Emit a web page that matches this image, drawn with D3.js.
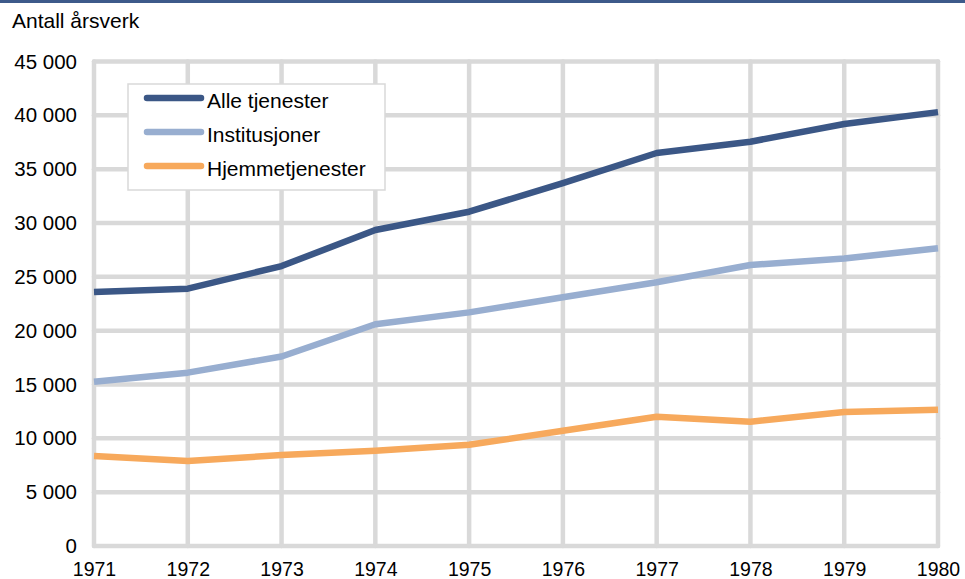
<!DOCTYPE html>
<html>
<head>
<meta charset="utf-8">
<script src="https://cdn.jsdelivr.net/npm/d3@7"></script>
<style>
  body { margin: 0; background: #fff; }
  text { font-family: "Liberation Sans", Arial, sans-serif; fill: #000; }
</style>
</head>
<body>
<svg id="chart" width="965" height="579"></svg>
<script>
// Data
const years = [1971, 1972, 1973, 1974, 1975, 1976, 1977, 1978, 1979, 1980];
const alleTjenester = [23600, 23900, 26000, 29350, 31050, 33700, 36500, 37550, 39200, 40300];
const institusjoner = [15250, 16100, 17600, 20600, 21700, 23100, 24500, 26100, 26700, 27650];
const hjemmetjenester = [8350, 7900, 8450, 8850, 9400, 10700, 12000, 11550, 12450, 12650];
const yTicks = [0, 5000, 10000, 15000, 20000, 25000, 30000, 35000, 40000, 45000];
const seriesNames = ["Alle tjenester", "Institusjoner", "Hjemmetjenester"];
const seriesColors = ["#3b5786", "#98aed0", "#f7a95c"];

const width = 965, height = 579;
const margin = {top: 61.5, right: 27, bottom: 33, left: 94};

const svg = d3.select("#chart");

// thin dark rule across the top
svg.append("rect")
    .attr("x", 0).attr("y", 0)
    .attr("width", width).attr("height", 3)
    .attr("fill", "#3d5a8a");

const x = d3.scaleLinear()
    .domain([years[0], years[years.length - 1]])
    .range([margin.left, width - margin.right]);

const y = d3.scaleLinear()
    .domain([0, 45000])
    .range([height - margin.bottom, margin.top]);

// numbers like "45 000"
const nb = d3.formatLocale({decimal: ",", thousands: " ", grouping: [3], currency: ["", ""]});
const fmt = nb.format(",");

// grid
const grid = svg.append("g")
    .attr("stroke", "#d9d9d9")
    .attr("stroke-width", 4.5)
    .attr("stroke-linecap", "round");

grid.selectAll("line.h")
    .data(yTicks)
    .enter()
    .append("line")
    .attr("class", "h")
    .attr("x1", x.range()[0]).attr("x2", x.range()[1])
    .attr("y1", d => y(d)).attr("y2", d => y(d));

grid.selectAll("line.v")
    .data(years)
    .enter()
    .append("line")
    .attr("class", "v")
    .attr("x1", d => x(d)).attr("x2", d => x(d))
    .attr("y1", y.range()[0]).attr("y2", y.range()[1]);

// y axis labels
const yAxis = d3.axisLeft(y)
    .tickValues(yTicks)
    .tickFormat(fmt)
    .tickSize(0)
    .tickPadding(0);

svg.append("g")
    .attr("transform", `translate(${margin.left - 17},0)`)
    .call(yAxis)
    .call(g => g.select(".domain").remove())
    .selectAll("text")
    .attr("font-size", "20.5px")
    .attr("font-family", "Liberation Sans, Arial, sans-serif")
    .attr("fill", "#000");

// x axis labels
const xAxis = d3.axisBottom(x)
    .tickValues(years)
    .tickFormat(d3.format("d"))
    .tickSize(0)
    .tickPadding(0);

svg.append("g")
    .attr("transform", `translate(0,${height - margin.bottom + 16})`)
    .call(xAxis)
    .call(g => g.select(".domain").remove())
    .selectAll("text")
    .attr("font-size", "19.5px")
    .attr("font-family", "Liberation Sans, Arial, sans-serif")
    .attr("fill", "#000");

// axis title
svg.append("text")
    .attr("x", 12)
    .attr("y", 28)
    .attr("font-size", "21px")
    .text("Antall årsverk");

// lines
const allSeries = [alleTjenester, institusjoner, hjemmetjenester];
const line = d3.line()
    .x((d, i) => x(years[i]))
    .y(d => y(d));

svg.append("g")
    .selectAll("path")
    .data(allSeries)
    .enter()
    .append("path")
    .attr("d", line)
    .attr("fill", "none")
    .attr("stroke", (d, i) => seriesColors[i])
    .attr("stroke-width", 6.5)
    .attr("stroke-linejoin", "round");

// legend
const legend = svg.append("g");
legend.append("rect")
    .attr("x", 128).attr("y", 84)
    .attr("width", 257).attr("height", 106)
    .attr("fill", "#fff")
    .attr("stroke", "#d9d9d9")
    .attr("stroke-width", 1.5);

const entries = legend.selectAll("g")
    .data(seriesNames)
    .enter()
    .append("g")
    .attr("transform", (d, i) => `translate(0,${98 + i * 34})`);

entries.append("line")
    .attr("x1", 147).attr("x2", 201)
    .attr("y1", 0).attr("y2", 0)
    .attr("stroke", (d, i) => seriesColors[i])
    .attr("stroke-width", 6.5)
    .attr("stroke-linecap", "round");

entries.append("text")
    .attr("x", 207)
    .attr("y", 10)
    .attr("font-size", "21px")
    .text(d => d);
</script>
</body>
</html>
